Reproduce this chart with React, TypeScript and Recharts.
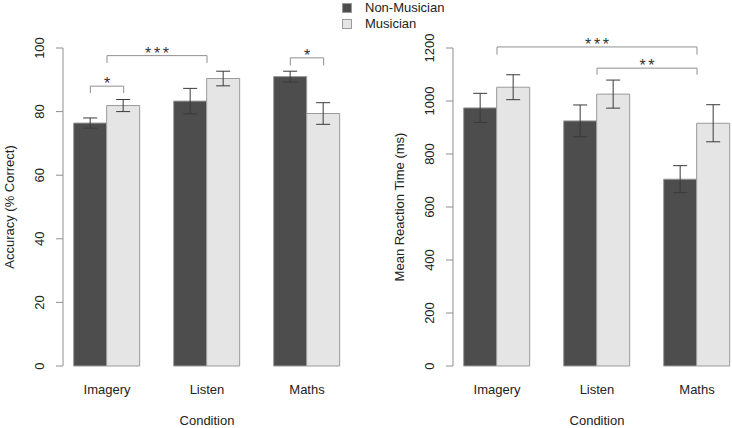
import React from "react";
import {
  Bar,
  BarChart,
  ErrorBar,
  Legend,
  ReferenceLine,
  XAxis,
  YAxis,
} from "recharts";

const conditions = ["Imagery", "Listen", "Maths"];
const seriesNames = ["Non-Musician", "Musician"];

const accNonMusician = [76.4, 83.3, 91.0];
const accNonMusicianErr = [1.6, 4.0, 1.7];
const accMusician = [81.9, 90.4, 79.4];
const accMusicianErr = [1.9, 2.3, 3.4];

const rtNonMusician = [974, 925, 705];
const rtNonMusicianErr = [55, 60, 51];
const rtMusician = [1052, 1026, 916];
const rtMusicianErr = [47, 53, 70];

const accTicks = [0, 20, 40, 60, 80, 100];
const rtTicks = [0, 200, 400, 600, 800, 1000, 1200];

// barplot midpoints of each group, in bar-width units (like R's barplot)
const groupMid = [2, 5, 8];

// significance brackets, x in the same bar units
const accBrackets = [
  { from: 1.5, to: 2.5, top: 88, foot: 85.8, mark: "*" },
  { from: 2, to: 5, top: 97.6, foot: 95.3, mark: "***" },
  { from: 7.5, to: 8.5, top: 96.9, foot: 94.5, mark: "*" },
];
const rtBrackets = [
  { from: 2, to: 8, top: 1204, foot: 1175, mark: "***" },
  { from: 5, to: 8, top: 1124, foot: 1099, mark: "**" },
];

const FONT = "'Liberation Sans', Arial, sans-serif";
const TEXT = "#222";
const AXIS = "#8f8f8f";
const DARK = "#4d4d4d";
const LIGHT = "#e5e5e5";
const BORDER = "#9a9a9a";

const accData = conditions.map((c, i) => ({
  condition: c,
  mid: groupMid[i],
  nonMus: accNonMusician[i],
  nonMusErr: accNonMusicianErr[i],
  mus: accMusician[i],
  musErr: accMusicianErr[i],
}));

const rtData = conditions.map((c, i) => ({
  condition: c,
  mid: groupMid[i],
  nonMus: rtNonMusician[i],
  nonMusErr: rtNonMusicianErr[i],
  mus: rtMusician[i],
  musErr: rtMusicianErr[i],
}));

function YTick(props: any) {
  const { x, y, payload } = props;
  const bx = x - 12;
  return (
    <text
      x={bx}
      y={y}
      transform={`rotate(-90 ${bx} ${y})`}
      textAnchor="middle"
      fontFamily={FONT}
      fontSize={13}
      fill={TEXT}
    >
      {payload.value}
    </text>
  );
}

function XTick(props: any) {
  const { x, y, payload } = props;
  return (
    <text x={x} y={y + 20} textAnchor="middle" fontFamily={FONT} fontSize={13} fill={TEXT}>
      {payload.value}
    </text>
  );
}

function yTitle(text: string) {
  return (props: any) => {
    const vb = props.viewBox;
    const bx = vb.x + vb.width - 49;
    const cy = vb.y + vb.height / 2;
    return (
      <text
        x={bx}
        y={cy}
        transform={`rotate(-90 ${bx} ${cy})`}
        textAnchor="middle"
        fontFamily={FONT}
        fontSize={13}
        fill={TEXT}
      >
        {text}
      </text>
    );
  };
}

function xTitle(props: any) {
  const vb = props.viewBox;
  return (
    <text
      x={vb.x + vb.width / 2}
      y={425}
      textAnchor="middle"
      fontFamily={FONT}
      fontSize={13}
      fill={TEXT}
    >
      Condition
    </text>
  );
}

function starLabel(mark: string) {
  return (props: any) => {
    const vb = props.viewBox;
    const spacing = mark.length > 1 ? 2.7 : 0;
    return (
      <text
        x={vb.x + (vb.width || 0) / 2 + spacing / 2}
        y={vb.y + 3}
        textAnchor="middle"
        fontFamily={FONT}
        fontSize={16}
        letterSpacing={spacing}
        fill="#333"
      >
        {mark}
      </text>
    );
  };
}

function renderBrackets(list: typeof accBrackets) {
  const out: React.ReactNode[] = [];
  list.forEach((b, i) => {
    out.push(
      <ReferenceLine
        key={`l${i}`}
        xAxisId="num"
        segment={[{ x: b.from, y: b.foot }, { x: b.from, y: b.top }]}
        stroke={AXIS}
        ifOverflow="visible"
      />,
      <ReferenceLine
        key={`r${i}`}
        xAxisId="num"
        segment={[{ x: b.to, y: b.foot }, { x: b.to, y: b.top }]}
        stroke={AXIS}
        ifOverflow="visible"
      />,
      <ReferenceLine
        key={`h${i}`}
        xAxisId="num"
        segment={[{ x: b.from, y: b.top }, { x: b.to, y: b.top }]}
        stroke={AXIS}
        ifOverflow="visible"
        label={starLabel(b.mark)}
      />
    );
  });
  return out;
}

function LegendBox(props: any) {
  const items = [...(props.payload || [])].sort(
    (a: any, b: any) => seriesNames.indexOf(a.value) - seriesNames.indexOf(b.value)
  );
  return (
    <div style={{ fontFamily: FONT, fontSize: 13, color: TEXT, lineHeight: "16px" }}>
      {items.map((p: any) => (
        <div key={p.value} style={{ display: "flex", alignItems: "center", height: 16 }}>
          <span
            style={{
              display: "inline-block",
              width: 8,
              height: 8,
              background: p.payload?.fill ?? p.color,
              border: `1px solid ${BORDER}`,
              marginRight: 13,
            }}
          />
          <span>{p.value}</span>
        </div>
      ))}
    </div>
  );
}

type PanelProps = {
  data: typeof accData;
  width: number;
  axisWidth: number;
  marginRight: number;
  yMax: number;
  ticks: number[];
  title: string;
  brackets: typeof accBrackets;
  legend?: boolean;
};

function Panel({ data, width, axisWidth, marginRight, yMax, ticks, title, brackets, legend }: PanelProps) {
  return (
    <BarChart
      width={width}
      height={428}
      data={data}
      margin={{ top: 48, right: marginRight, bottom: 0, left: 0 }}
      barCategoryGap="16.667%"
      barGap={0}
    >
      <XAxis
        dataKey="condition"
        axisLine={false}
        tickLine={false}
        height={62}
        padding={{ left: -6, right: -6 }}
        tick={<XTick />}
        interval={0}
        label={xTitle}
      />
      <XAxis
        xAxisId="num"
        dataKey="mid"
        type="number"
        scale="linear"
        domain={[0.68, 9.32]}
        allowDataOverflow
        hide
      />
      <YAxis
        width={axisWidth}
        domain={[0, yMax]}
        ticks={ticks}
        interval={0}
        stroke={AXIS}
        tickSize={7}
        tickMargin={0}
        tick={<YTick />}
        label={yTitle(title)}
      />
      {legend && (
        <Legend
          layout="vertical"
          align="center"
          verticalAlign="middle"
          wrapperStyle={{ top: 0, left: 342, width: 140 }}
          content={<LegendBox />}
        />
      )}
      <Bar dataKey="nonMus" name={seriesNames[0]} fill={DARK} stroke={BORDER} isAnimationActive={false}>
        <ErrorBar dataKey="nonMusErr" width={7} stroke="#3a3a3a" strokeWidth={1} />
      </Bar>
      <Bar dataKey="mus" name={seriesNames[1]} fill={LIGHT} stroke={BORDER} isAnimationActive={false}>
        <ErrorBar dataKey="musErr" width={7} stroke="#3a3a3a" strokeWidth={1} />
      </Bar>
      {renderBrackets(brackets)}
    </BarChart>
  );
}

export default function App() {
  return (
    <div
      style={{
        position: "absolute",
        left: 0,
        top: 0,
        width: 732,
        height: 428,
        overflow: "hidden",
        background: "#fff",
      }}
    >
      <div style={{ position: "absolute", left: 0, top: 0 }}>
        <Panel
          data={accData}
          width={366}
          axisWidth={63}
          marginRight={15}
          yMax={100}
          ticks={accTicks}
          title="Accuracy (% Correct)"
          brackets={accBrackets}
          legend
        />
      </div>
      <div style={{ position: "absolute", left: 366, top: 0 }}>
        <Panel
          data={rtData}
          width={375}
          axisWidth={87}
          marginRight={0}
          yMax={1200}
          ticks={rtTicks}
          title="Mean Reaction Time (ms)"
          brackets={rtBrackets}
        />
      </div>
    </div>
  );
}
